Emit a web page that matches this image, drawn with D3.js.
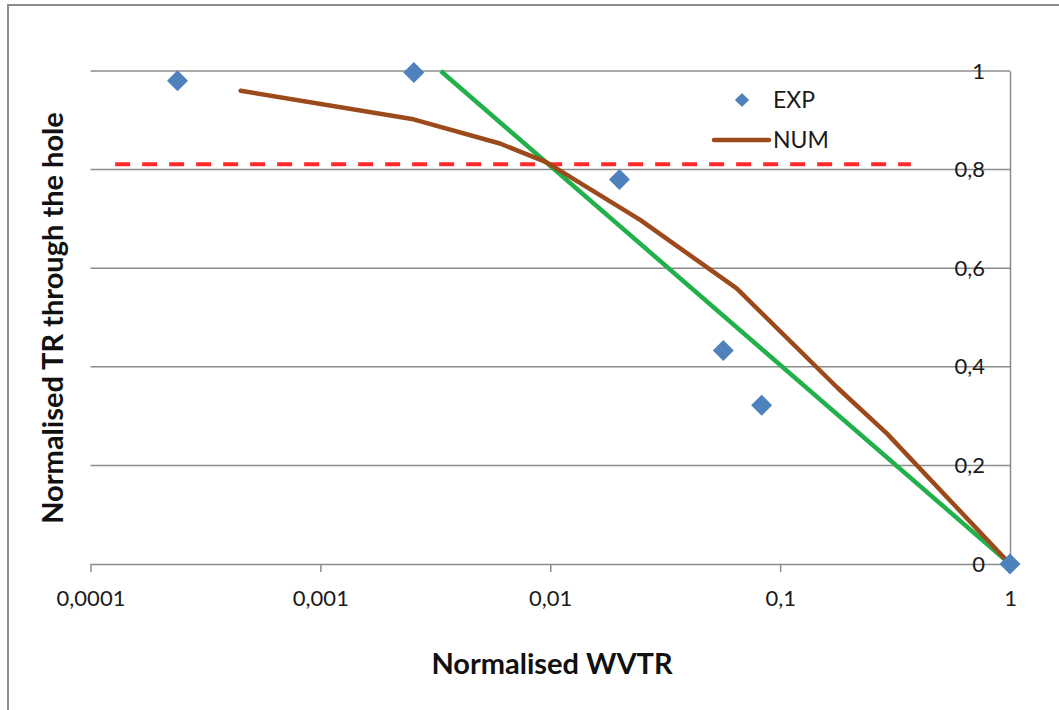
<!DOCTYPE html>
<html lang="en">
<head>
    <meta charset="UTF-8">
    <title>Normalised TR vs WVTR</title>
    <script src="https://d3js.org/d3.v7.min.js"></script>
    <style>
        body{
            margin: 0;
            background-color: white;
            font-family: Lato, "Open Sans", sans-serif;
        }
        svg{
            display: block;
        }
        .tick text{
            font-family: Lato, sans-serif;
            font-size: 22px;
            fill: #1a1a1a;
        }
        .title{
            font-family: Lato, sans-serif;
            font-weight: bold;
            font-size: 29px;
            fill: #111;
        }
    </style>
</head>
<body>
<svg></svg>
<script>
    const width = 1059;
    const height = 710;

    /* experimental points */
    const expX = [0.000239, 0.00255, 0.0200, 0.0566, 0.0831, 1];
    const expY = [0.980, 0.997, 0.780, 0.433, 0.322, 0];

    /* numerical curve */
    const numX = [0.00045, 0.00254, 0.00604, 0.0096, 0.0246, 0.0647, 0.178, 0.291, 1];
    const numY = [0.960, 0.902, 0.853, 0.815, 0.698, 0.559, 0.357, 0.265, 0];

    /* green straight fit */
    const fitX = [0.00334, 1];
    const fitY = [1, 0];

    /* red dashed threshold */
    const limitX = [0.000128, 0.3705];
    const limitY = [0.811, 0.811];

    const xTicks = [0.0001, 0.001, 0.01, 0.1, 1];
    const xTickLabels = ['0,0001', '0,001', '0,01', '0,1', '1'];
    const yTicks = [0, 0.2, 0.4, 0.6, 0.8, 1];
    const yTickLabels = ['0', '0,2', '0,4', '0,6', '0,8', '1'];

    const svg = d3.select('svg')
            .attr('width', width)
            .attr('height', height);

    const x = d3.scaleLog().domain([0.0001, 1]).range([90.5, 1010]);
    const y = d3.scaleLinear().domain([0, 1]).range([564, 71]);

    /* outer frame */
    svg.append('rect')
        .attr('x', 8).attr('y', 5)
        .attr('width', 1070).attr('height', 720)
        .attr('fill', 'none')
        .attr('stroke', '#8c8c8c')
        .attr('stroke-width', 2);

    /* horizontal gridlines */
    svg.append('g')
        .selectAll('line')
        .data(yTicks.slice(1))
        .enter().append('line')
        .attr('x1', x.range()[0]).attr('x2', x.range()[1])
        .attr('y1', d => y(d)).attr('y2', d => y(d))
        .attr('stroke', '#8c8c8c')
        .attr('stroke-width', 1.5);

    /* x axis */
    const xAxis = svg.append('g')
        .attr('transform', `translate(0,${y(0)})`)
        .call(d3.axisBottom(x)
            .tickValues(xTicks)
            .tickFormat((d, i) => xTickLabels[i])
            .tickSizeInner(8)
            .tickSizeOuter(0)
            .tickPadding(18));
    xAxis.select('.domain').attr('stroke', '#8c8c8c').attr('stroke-width', 1.5);
    xAxis.selectAll('.tick line').attr('stroke', '#8c8c8c').attr('stroke-width', 1.5);

    /* y axis on the right, labels to the left of it */
    const yAxis = svg.append('g')
        .attr('transform', `translate(${x.range()[1]},0)`)
        .call(d3.axisLeft(y)
            .tickValues(yTicks)
            .tickFormat((d, i) => yTickLabels[i])
            .tickSize(0)
            .tickPadding(25));
    yAxis.select('.domain').attr('stroke', '#8c8c8c').attr('stroke-width', 1.5);

    /* dashed threshold */
    const line = d3.line().x(d => x(d[0])).y(d => y(d[1]));
    svg.append('path')
        .datum(d3.zip(limitX, limitY))
        .attr('d', line)
        .attr('fill', 'none')
        .attr('stroke', '#ff2a2a')
        .attr('stroke-width', 4)
        .attr('stroke-dasharray', '15,12');

    /* fit line */
    svg.append('path')
        .datum(d3.zip(fitX, fitY))
        .attr('d', line)
        .attr('fill', 'none')
        .attr('stroke', '#22b04b')
        .attr('stroke-width', 4.5);

    /* NUM */
    svg.append('path')
        .datum(d3.zip(numX, numY))
        .attr('d', line)
        .attr('fill', 'none')
        .attr('stroke', '#9c4a1c')
        .attr('stroke-width', 4.5)
        .attr('stroke-linejoin', 'round')
        .attr('stroke-linecap', 'round');

    /* EXP diamonds */
    const diamond = d3.symbol(d3.symbolSquare, 220);
    svg.append('g')
        .selectAll('path')
        .data(d3.zip(expX, expY))
        .enter().append('path')
        .attr('d', diamond)
        .attr('transform', d => `translate(${x(d[0])},${y(d[1])}) rotate(45)`)
        .attr('fill', '#4f81bd');

    /* legend */
    const legend = svg.append('g');
    legend.append('path')
        .attr('d', d3.symbol(d3.symbolSquare, 100))
        .attr('transform', 'translate(742,100) rotate(45)')
        .attr('fill', '#4f81bd');
    legend.append('text')
        .attr('x', 773).attr('y', 100).attr('dy', '0.35em')
        .style('font-size', '23px').style('fill', '#1a1a1a')
        .text('EXP');
    legend.append('line')
        .attr('x1', 714).attr('x2', 769)
        .attr('y1', 140).attr('y2', 140)
        .attr('stroke', '#9c4a1c')
        .attr('stroke-width', 4.5)
        .attr('stroke-linecap', 'round');
    legend.append('text')
        .attr('x', 773).attr('y', 140).attr('dy', '0.35em')
        .style('font-size', '23px').style('fill', '#1a1a1a')
        .text('NUM');

    /* axis titles */
    svg.append('text')
        .attr('class', 'title')
        .attr('x', 552).attr('y', 674)
        .attr('text-anchor', 'middle')
        .text('Normalised WVTR');
    svg.append('text')
        .attr('class', 'title')
        .attr('transform', 'translate(63,318) rotate(-90)')
        .attr('text-anchor', 'middle')
        .text('Normalised TR through the hole');
</script>
</body>
</html>
